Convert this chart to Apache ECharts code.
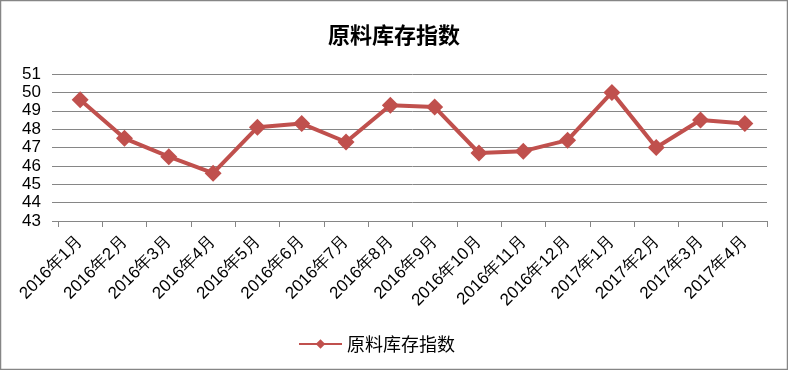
<!DOCTYPE html>
<html><head><meta charset="utf-8">
<script src="https://cdn.jsdelivr.net/npm/echarts@6/dist/echarts.min.js"></script>
<style>html,body{margin:0;padding:0;background:#fff}#c{width:788px;height:370px}</style>
</head><body><div id="c"></div>
<script>
var categories = ['2016年1月','2016年2月','2016年3月','2016年4月','2016年5月','2016年6月','2016年7月','2016年8月','2016年9月','2016年10月','2016年11月','2016年12月','2017年1月','2017年2月','2017年3月','2017年4月'];
var seriesName = '原料库存指数';
var values = [49.6, 47.5, 46.5, 45.6, 48.1, 48.3, 47.3, 49.3, 49.2, 46.7, 46.8, 47.4, 50.0, 47.0, 48.5, 48.3];
var titleText = '原料库存指数';

var chart = echarts.init(document.getElementById('c'), null, {renderer:'canvas'});
chart.setOption({
  animation:false,
  backgroundColor:'#fff',
  graphic:[{type:'rect',shape:{x:0.5,y:0.5,width:787,height:369},style:{fill:'none',stroke:'#868686',lineWidth:1.5},silent:true}],
  title:{text:titleText,left:'center',top:19,textStyle:{fontFamily:'Noto Sans CJK SC',fontWeight:'bold',fontSize:22,color:'#000'}},
  legend:{top:330,left:293,itemWidth:43,itemHeight:12,itemGap:6,textStyle:{fontFamily:'Noto Sans CJK SC',fontSize:18,color:'#000'},data:[seriesName]},
  grid:{left:58,right:21,top:74,bottom:149,containLabel:false},
  xAxis:{type:'category',data:categories,boundaryGap:true,
    axisLine:{lineStyle:{color:'#868686',width:1}},
    axisTick:{show:true,length:6,alignWithLabel:false,lineStyle:{color:'#868686'}},
    axisLabel:{rotate:45,interval:0,fontFamily:'Liberation Sans',fontSize:17,color:'#000',margin:18}},
  yAxis:{type:'value',min:43,max:51,interval:1,
    axisLine:{show:false},
    axisTick:{show:true,length:6,lineStyle:{color:'#868686'}},
    splitLine:{lineStyle:{color:'#868686',width:1}},
    axisLabel:{fontFamily:'Liberation Sans',fontSize:17,color:'#000',margin:17}},
  series:[{name:seriesName,type:'line',data:values,symbol:'diamond',symbolSize:17,
    lineStyle:{color:'#C0504D',width:4},itemStyle:{color:'#C0504D'}}]
});
</script></body></html>
